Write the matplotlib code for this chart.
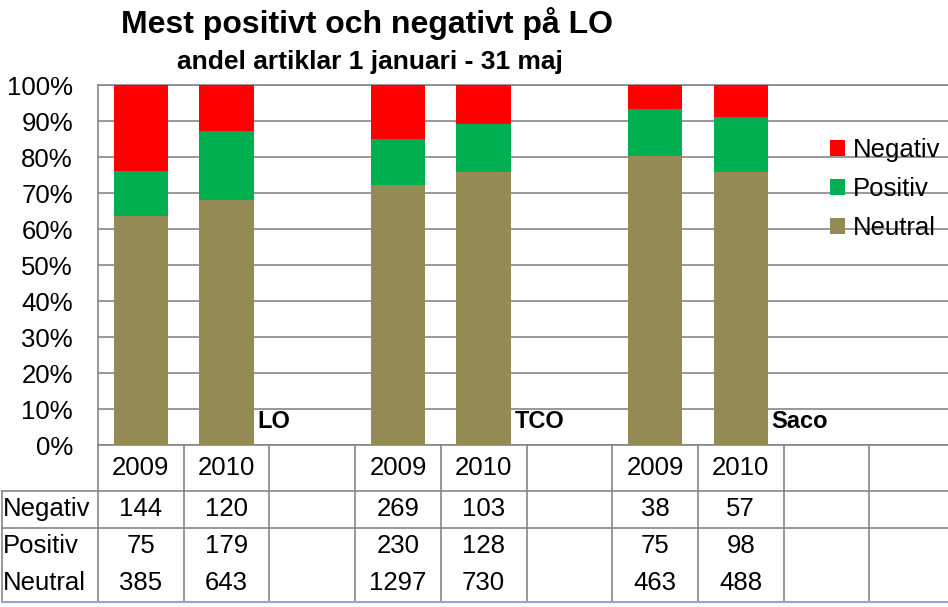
import matplotlib
matplotlib.use("Agg")
import matplotlib.pyplot as plt
from matplotlib.transforms import blended_transform_factory
from matplotlib.lines import Line2D

plt.rcParams['font.family'] = ['Liberation Sans', 'DejaVu Sans']
NARROW = ['Liberation Sans Narrow', 'Liberation Sans', 'DejaVu Sans']

# ---- data ----
groups = ['LO', 'TCO', 'Saco']
years = ['2009', '2010']
negativ = [[144, 120], [269, 103], [38, 57]]
positiv = [[75, 179], [230, 128], [75, 98]]
neutral = [[385, 643], [1297, 730], [463, 488]]
series_names = ['Negativ', 'Positiv', 'Neutral']
colors = {'Neutral': '#948A54', 'Positiv': '#00B050', 'Negativ': '#FF0000'}
title = 'Mest positivt och negativt på LO'
subtitle = 'andel artiklar 1 januari - 31 maj'
n_slots = 10
slots_per_group = 3

W, H = 948, 607
fig = plt.figure(figsize=(W / 100, H / 100), dpi=100)

def fy(py):
    return 1 - py / H

ax_left, ax_right = 98, 98 + 85.7 * n_slots
ax_top, ax_bot = 85.3, 445.3
ax = fig.add_axes([ax_left / W, fy(ax_bot), (ax_right - ax_left) / W, (ax_bot - ax_top) / H])
ax.set_xlim(0, n_slots)
ax.set_ylim(0, 1)

grid_c = '#868686'
bar_w = 0.635
handles = {}
for g, grp in enumerate(groups):
    for yi, yr in enumerate(years):
        x = g * slots_per_group + yi + 0.5
        tot = negativ[g][yi] + positiv[g][yi] + neutral[g][yi]
        vals = {'Neutral': neutral[g][yi] / tot, 'Positiv': positiv[g][yi] / tot,
                'Negativ': negativ[g][yi] / tot}
        bottom = 0
        for s in ['Neutral', 'Positiv', 'Negativ']:
            b = ax.bar(x, vals[s], bottom=bottom, width=bar_w, color=colors[s],
                       zorder=3, linewidth=0)
            handles[s] = b
            bottom += vals[s]
    # group label beside 2010 bar
    xl = g * slots_per_group + 1 + 0.5 + bar_w / 2 + 0.04
    ax.text(xl, 0.065, grp, fontsize=17, fontweight='bold', family=NARROW,
            ha='left', va='center', zorder=4)

ax.set_yticks([i / 10 for i in range(11)])
ax.set_yticklabels([f'{i * 10}%' for i in range(11)], fontsize=18.5)
ax.tick_params(axis='y', length=0, pad=18)
ax.tick_params(axis='x', length=0, labelbottom=False)
ax.grid(axis='y', color=grid_c, linewidth=1.2, zorder=0)
for sp in ax.spines.values():
    sp.set_color(grid_c)
    sp.set_linewidth(1.2)

leg = ax.legend([handles[s] for s in series_names], series_names,
                loc='upper left',
                bbox_to_anchor=((830 - ax_left) / (ax_right - ax_left), 1 - (138 - ax_top) / (ax_bot - ax_top)),
                frameon=False, fontsize=18.5, handlelength=0.58, handleheight=0.58,
                handletextpad=0.3, labelspacing=0.58, borderaxespad=0, borderpad=0)

# ---- titles ----
fig.text(367 / W, fy(24), title, ha='center', va='center', fontsize=23, fontweight='bold')
fig.text(370 / W, fy(62), subtitle, ha='center', va='center', fontsize=19,
         fontweight='bold', family=NARROW)

# ---- data table ----
tr = blended_transform_factory(ax.transData, fig.transFigure)
row_hdr_bot = 491
row_lines = [491, 528]
table_bot = 602
row_centers = {'Negativ': 509, 'Positiv': 546, 'Neutral': 583}
line_kw = dict(color=grid_c, linewidth=1.2)

for i in range(n_slots + 1):
    fig.add_artist(Line2D([i, i], [fy(ax_bot), fy(table_bot)], transform=tr, **line_kw))
fig.add_artist(Line2D([1.5 / W, 1.5 / W], [fy(row_hdr_bot), fy(table_bot)],
                      transform=fig.transFigure, **line_kw))
for ry in row_lines:
    fig.add_artist(Line2D([1.5 / W, 1], [fy(ry), fy(ry)], transform=fig.transFigure, **line_kw))
fig.add_artist(Line2D([1.5 / W, 1], [fy(table_bot), fy(table_bot)], transform=fig.transFigure,
                      color='#8FA8C8', linewidth=1.5))

table_vals = {'Negativ': negativ, 'Positiv': positiv, 'Neutral': neutral}
for g in range(len(groups)):
    for yi, yr in enumerate(years):
        x = g * slots_per_group + yi + 0.5
        fig.text(x, fy(468), yr, transform=tr, ha='center', va='center', fontsize=18.5)
        for s in series_names:
            fig.text(x, fy(row_centers[s]), str(table_vals[s][g][yi]), transform=tr,
                     ha='center', va='center', fontsize=18.5)
for s in series_names:
    fig.text(3 / W, fy(row_centers[s]), s, ha='left', va='center', fontsize=18.5)

fig.savefig('out.png', dpi=100)
